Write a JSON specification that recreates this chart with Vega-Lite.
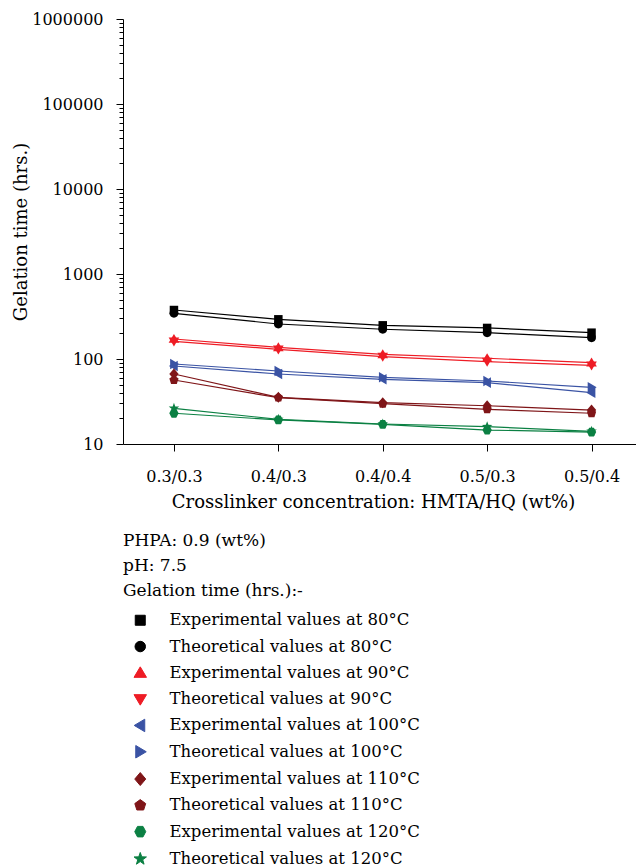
{
  "$schema": "https://vega.github.io/schema/vega-lite/v6.json",
  "autosize": "none",
  "width": 513,
  "height": 425,
  "padding": {"left": 123, "top": 19, "right": 0, "bottom": 423},
  "background": "white",
  "config": {
    "view": {"stroke": null},
    "font": "DejaVu Serif",
    "axis": {"grid": false, "domainColor": "#000", "tickColor": "#000", "labelColor": "#000", "titleColor": "#000", "labelFont": "DejaVu Serif", "titleFont": "DejaVu Serif", "labelFontSize": 16, "titleFontSize": 18, "titleFontWeight": "normal", "domainWidth": 1, "tickWidth": 1}
  },
  "data": {"values": [
    {"conc": "0.3/0.3", "series": "Experimental values at 80°C", "time": 377},
    {"conc": "0.4/0.3", "series": "Experimental values at 80°C", "time": 293},
    {"conc": "0.4/0.4", "series": "Experimental values at 80°C", "time": 249},
    {"conc": "0.5/0.3", "series": "Experimental values at 80°C", "time": 232},
    {"conc": "0.5/0.4", "series": "Experimental values at 80°C", "time": 204},
    {"conc": "0.3/0.3", "series": "Theoretical values at 80°C", "time": 345},
    {"conc": "0.4/0.3", "series": "Theoretical values at 80°C", "time": 258},
    {"conc": "0.4/0.4", "series": "Theoretical values at 80°C", "time": 224},
    {"conc": "0.5/0.3", "series": "Theoretical values at 80°C", "time": 204},
    {"conc": "0.5/0.4", "series": "Theoretical values at 80°C", "time": 178},
    {"conc": "0.3/0.3", "series": "Experimental values at 90°C", "time": 172},
    {"conc": "0.4/0.3", "series": "Experimental values at 90°C", "time": 137},
    {"conc": "0.4/0.4", "series": "Experimental values at 90°C", "time": 113.5},
    {"conc": "0.5/0.3", "series": "Experimental values at 90°C", "time": 102},
    {"conc": "0.5/0.4", "series": "Experimental values at 90°C", "time": 90.5},
    {"conc": "0.3/0.3", "series": "Theoretical values at 90°C", "time": 161},
    {"conc": "0.4/0.3", "series": "Theoretical values at 90°C", "time": 130},
    {"conc": "0.4/0.4", "series": "Theoretical values at 90°C", "time": 106.5},
    {"conc": "0.5/0.3", "series": "Theoretical values at 90°C", "time": 93},
    {"conc": "0.5/0.4", "series": "Theoretical values at 90°C", "time": 84},
    {"conc": "0.3/0.3", "series": "Experimental values at 100°C", "time": 82.7},
    {"conc": "0.4/0.3", "series": "Experimental values at 100°C", "time": 66.6},
    {"conc": "0.4/0.4", "series": "Experimental values at 100°C", "time": 57.7},
    {"conc": "0.5/0.3", "series": "Experimental values at 100°C", "time": 52.7},
    {"conc": "0.5/0.4", "series": "Experimental values at 100°C", "time": 40.2},
    {"conc": "0.3/0.3", "series": "Theoretical values at 100°C", "time": 87.3},
    {"conc": "0.4/0.3", "series": "Theoretical values at 100°C", "time": 72.2},
    {"conc": "0.4/0.4", "series": "Theoretical values at 100°C", "time": 60.9},
    {"conc": "0.5/0.3", "series": "Theoretical values at 100°C", "time": 55.1},
    {"conc": "0.5/0.4", "series": "Theoretical values at 100°C", "time": 46.4},
    {"conc": "0.3/0.3", "series": "Experimental values at 110°C", "time": 66.6},
    {"conc": "0.4/0.3", "series": "Experimental values at 110°C", "time": 35.4},
    {"conc": "0.4/0.4", "series": "Experimental values at 110°C", "time": 30.6},
    {"conc": "0.5/0.3", "series": "Experimental values at 110°C", "time": 28.2},
    {"conc": "0.5/0.4", "series": "Experimental values at 110°C", "time": 25.1},
    {"conc": "0.3/0.3", "series": "Theoretical values at 110°C", "time": 56.6},
    {"conc": "0.4/0.3", "series": "Theoretical values at 110°C", "time": 35.1},
    {"conc": "0.4/0.4", "series": "Theoretical values at 110°C", "time": 29.8},
    {"conc": "0.5/0.3", "series": "Theoretical values at 110°C", "time": 25.6},
    {"conc": "0.5/0.4", "series": "Theoretical values at 110°C", "time": 23.0},
    {"conc": "0.3/0.3", "series": "Experimental values at 120°C", "time": 23.0},
    {"conc": "0.4/0.3", "series": "Experimental values at 120°C", "time": 19.2},
    {"conc": "0.4/0.4", "series": "Experimental values at 120°C", "time": 17.0},
    {"conc": "0.5/0.3", "series": "Experimental values at 120°C", "time": 14.6},
    {"conc": "0.5/0.4", "series": "Experimental values at 120°C", "time": 13.8},
    {"conc": "0.3/0.3", "series": "Theoretical values at 120°C", "time": 26.3},
    {"conc": "0.4/0.3", "series": "Theoretical values at 120°C", "time": 19.5},
    {"conc": "0.4/0.4", "series": "Theoretical values at 120°C", "time": 17.2},
    {"conc": "0.5/0.3", "series": "Theoretical values at 120°C", "time": 16.0},
    {"conc": "0.5/0.4", "series": "Theoretical values at 120°C", "time": 14.1}
  ]},
  "encoding": {
    "x": {"field": "conc", "type": "ordinal", "sort": null,
      "scale": {"type": "point", "padding": 0.457, "align": 0.534},
      "axis": {"title": "Crosslinker concentration: HMTA/HQ (wt%)", "labelAngle": 0, "tickSize": 7, "labelPadding": 17, "titlePadding": 9, "titleX": 250}},
    "y": {"field": "time", "type": "quantitative",
      "scale": {"type": "log", "domain": [10, 1000000]},
      "axis": {"title": "Gelation time (hrs.)",
        "values": [10,20,30,40,50,60,70,80,90,100,200,300,400,500,600,700,800,900,1000,2000,3000,4000,5000,6000,7000,8000,9000,10000,20000,30000,40000,50000,60000,70000,80000,90000,100000,200000,300000,400000,500000,600000,700000,800000,900000,1000000],
        "labelExpr": "indexof([10,100,1000,10000,100000,1000000], datum.value) >= 0 ? format(datum.value, 'd') : ''",
        "tickSize": {"condition": {"test": "indexof([10,100,1000,10000,100000,1000000], datum.value) >= 0", "value": 7}, "value": 4},
        "labelPadding": 13, "titlePadding": 1}},
    "color": {"field": "series", "type": "nominal",
      "scale": {
        "domain": ["Experimental values at 80°C", "Theoretical values at 80°C", "Experimental values at 90°C", "Theoretical values at 90°C", "Experimental values at 100°C", "Theoretical values at 100°C", "Experimental values at 110°C", "Theoretical values at 110°C", "Experimental values at 120°C", "Theoretical values at 120°C"],
        "range": ["#000000", "#000000", "#ee1c25", "#ee1c25", "#3a53a4", "#3a53a4", "#7f1518", "#7f1518", "#0b8043", "#0b8043"]},
      "legend": {
        "orient": "none", "legendX": 0, "legendY": 514,
        "title": ["PHPA: 0.9 (wt%)", "pH: 7.5", "Gelation time (hrs.):-"],
        "titleFont": "DejaVu Serif", "titleFontSize": 17, "titleFontWeight": "normal", "titleColor": "#000", "titleLineHeight": 25, "titlePadding": 12,
        "labelFont": "DejaVu Serif", "labelFontSize": 16.5, "labelColor": "#000", "labelLimit": 400,
        "symbolSize": 100, "symbolStrokeWidth": 1, "symbolOffset": 9, "labelOffset": 21, "rowPadding": 9.3,
        "encode": {"symbols": {"update": {
          "shape": {"signal": "'M-4,-0.12H4V0.12H-4Z' + scale('shape', datum.value)"},
          "stroke": {"signal": "scale('color', datum.value)"},
          "fill": {"signal": "scale('color', datum.value)"},
          "strokeWidth": {"value": 1},
          "opacity": {"value": 1}
        }}}
      }}
  },
  "layer": [
    {"mark": {"type": "line", "strokeWidth": 1.2}},
    {"mark": {"type": "point", "filled": true, "opacity": 1, "size": 72},
     "encoding": {
       "shape": {"field": "series", "type": "nominal", "legend": null,
         "scale": {
           "domain": ["Experimental values at 80°C", "Theoretical values at 80°C", "Experimental values at 90°C", "Theoretical values at 90°C", "Experimental values at 100°C", "Theoretical values at 100°C", "Experimental values at 110°C", "Theoretical values at 110°C", "Experimental values at 120°C", "Theoretical values at 120°C"],
           "range": [
             "M-1,-1H1V1H-1Z",
             "M-1.05,0A1.05,1.05 0 1,1 1.05,0A1.05,1.05 0 1,1 -1.05,0Z",
             "M0,-1.2L1.25,0.9L-1.25,0.9Z",
             "M0,1.2L-1.25,-0.9L1.25,-0.9Z",
             "M-1.2,0L0.9,-1.25L0.9,1.25Z",
             "M1.2,0L-0.9,1.25L-0.9,-1.25Z",
             "M0,-1.3L1.1,0L0,1.3L-1.1,0Z",
             "M0,-1.15L1.09,-0.36L0.68,0.93L-0.68,0.93L-1.09,-0.36Z",
             "M-0.55,-1.05L0.55,-1.05L1.1,0L0.55,1.05L-0.55,1.05L-1.1,0Z",
             "M0,-1.3L0.306,-0.421L1.236,-0.402L0.495,0.161L0.764,1.052L0,0.52L-0.764,1.052L-0.495,0.161L-1.236,-0.402L-0.306,-0.421Z"
           ]}}
     }}
  ]
}
